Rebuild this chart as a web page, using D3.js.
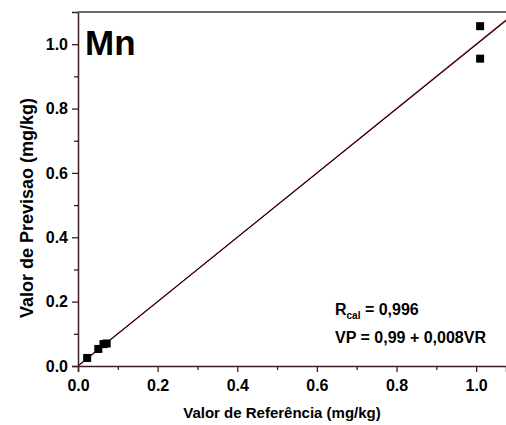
<!DOCTYPE html>
<html>
<head>
<meta charset="utf-8">
<script src="https://cdn.jsdelivr.net/npm/d3@7"></script>
<style>
  body { margin: 0; background: #fff; }
  svg { font-family: "Liberation Sans", Arial, sans-serif; font-weight: bold; }
</style>
</head>
<body>
<svg id="chart" width="506" height="425"></svg>
<script>
// valores
var refValues  = [0.023, 0.051, 0.064, 0.072, 1.010, 1.010];
var predValues = [0.025, 0.053, 0.068, 0.070, 1.056, 0.955];
var xTicks = [0, 0.2, 0.4, 0.6, 0.8, 1.0];
var yTicks = [0, 0.2, 0.4, 0.6, 0.8, 1.0];
var minorTicks = [0.1, 0.3, 0.5, 0.7, 0.9];
var fitLine = [0.997, 0.001]; // inclinacao, intercepto
var element = "Mn";
var rLabel = "0,996";
var eqLabel = "VP = 0,99 + 0,008VR";

var svg = d3.select("#chart"),
    margin = {top: 12, right: 0, bottom: 59, left: 78},
    width = +svg.attr("width") - margin.left - margin.right,
    height = +svg.attr("height") - margin.top - margin.bottom;

var x = d3.scaleLinear().domain([0, 1.075]).range([0, width]);
var y = d3.scaleLinear().domain([0, 1.1]).range([height, 0]);

var g = svg.append("g").attr("transform", "translate(" + margin.left + "," + margin.top + ")");

var axisColor = "#3c1c24";

// linhas (y = x e ajuste)
g.append("clipPath").attr("id", "clip")
  .append("rect").attr("width", width).attr("height", height);

var lineFn = function(a, b) {
  return d3.line()
    .x(function(d) { return x(d); })
    .y(function(d) { return y(a * d + b); })([0, 1.075]);
};

g.append("path")
  .attr("clip-path", "url(#clip)")
  .attr("d", lineFn(1, 0))
  .attr("stroke", "#a0202a").attr("stroke-width", 1.3).attr("fill", "none");

g.append("path")
  .attr("clip-path", "url(#clip)")
  .attr("d", lineFn(fitLine[0], fitLine[1]))
  .attr("stroke", "#000").attr("stroke-width", 1).attr("fill", "none");

// pontos
g.selectAll(".pt")
  .data(refValues)
  .enter().append("rect")
  .attr("class", "pt")
  .attr("x", function(d) { return x(d) - 4; })
  .attr("y", function(d, i) { return y(predValues[i]) - 4; })
  .attr("width", 8).attr("height", 8)
  .attr("fill", "#000");

// eixo x
g.append("g").attr("transform", "translate(0," + height + ")")
  .call(d3.axisBottom(x).tickValues(xTicks).tickSize(6).tickPadding(8)
    .tickFormat(d3.format(".1f")));
g.append("g").attr("transform", "translate(0," + height + ")")
  .call(d3.axisBottom(x).tickValues(minorTicks).tickSize(4).tickFormat(""))
  .call(function(s) { s.select(".domain").remove(); });

// eixo y
g.append("g")
  .call(d3.axisLeft(y).tickValues(yTicks).tickSize(6).tickPadding(4)
    .tickFormat(d3.format(".1f")));
g.append("g")
  .call(d3.axisLeft(y).tickValues(minorTicks).tickSize(4).tickFormat(""))
  .call(function(s) { s.select(".domain").remove(); });

g.selectAll(".domain").attr("stroke", axisColor).attr("stroke-width", 1.5);
g.selectAll(".tick line").attr("stroke", axisColor).attr("stroke-width", 1.3);
g.selectAll(".tick text")
  .attr("fill", "#000")
  .style("font-size", "16px")
  .style("font-family", "'Liberation Sans', Arial, sans-serif")
  .style("font-weight", "bold");

// linha superior
g.append("line")
  .attr("x1", 0).attr("x2", width).attr("y1", 0).attr("y2", 0)
  .attr("stroke", "#6e6e60").attr("stroke-width", 2);

// titulos
svg.append("text")
  .attr("x", 282).attr("y", 418)
  .attr("text-anchor", "middle")
  .style("font-size", "15px")
  .text("Valor de Referência (mg/kg)");

svg.append("text")
  .attr("transform", "translate(33,208) rotate(-90)")
  .attr("text-anchor", "middle")
  .style("font-size", "18px")
  .text("Valor de Previsao (mg/kg)");

svg.append("text")
  .attr("x", 85).attr("y", 55)
  .style("font-size", "35px")
  .text(element);

// anotacao
var ann = svg.append("text").attr("x", 335).attr("y", 315).style("font-size", "16px");
ann.append("tspan").text("R");
ann.append("tspan").attr("dy", 4).style("font-size", "10px").text("cal");
ann.append("tspan").attr("dy", -4).text(" = " + rLabel);

svg.append("text").attr("x", 335).attr("y", 343).style("font-size", "16px").text(eqLabel);
</script>
</body>
</html>
